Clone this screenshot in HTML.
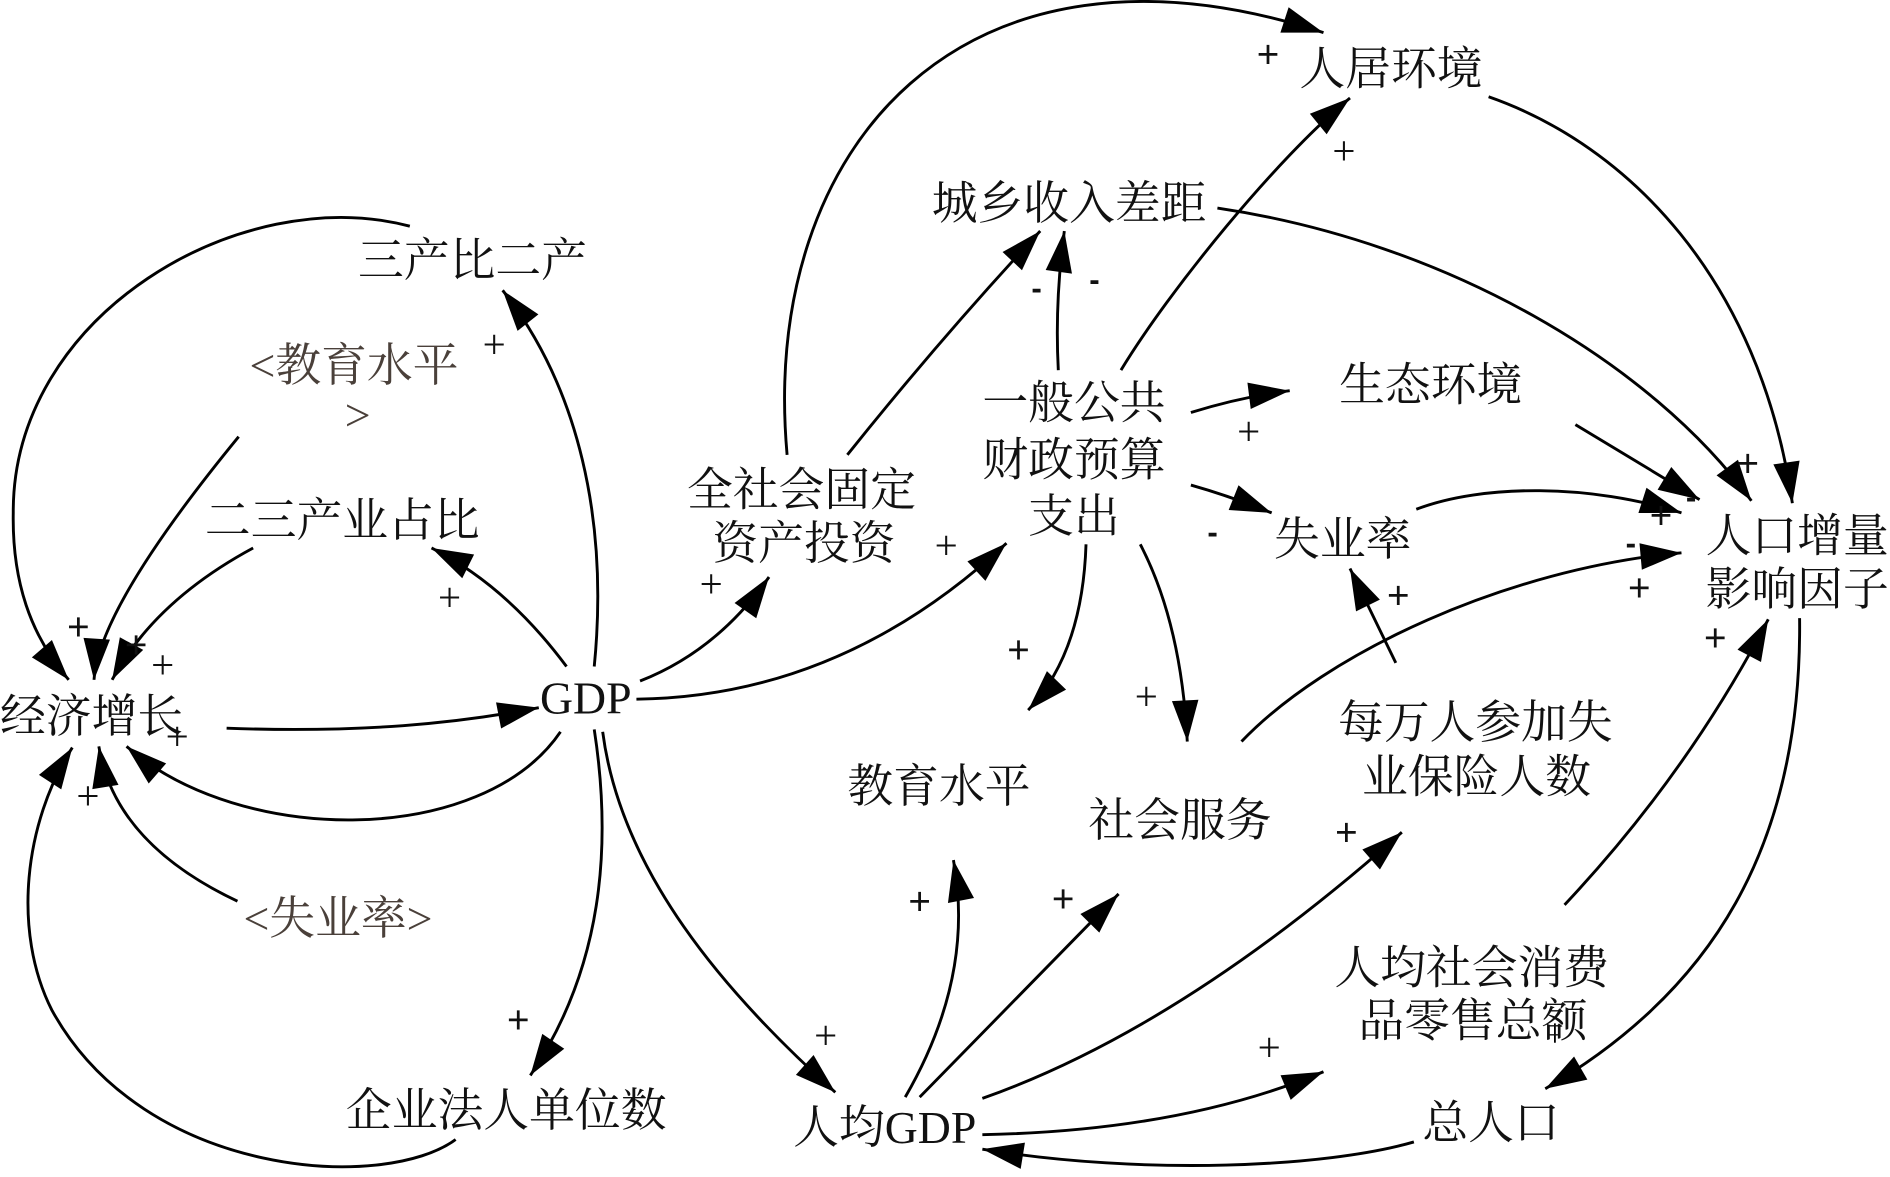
<!DOCTYPE html>
<html>
<head>
<meta charset="utf-8">
<style>
html,body{margin:0;padding:0;background:#fff;}
svg{display:block;}
.t{font-family:"Liberation Serif","Noto Serif CJK SC",serif;font-size:38px;fill:#111;}
.g{fill:#4a403a;}
.p{font-family:"Liberation Serif",serif;font-size:34px;fill:#111;text-anchor:middle;}
.pb{font-family:"Liberation Sans",sans-serif;font-size:32px;fill:#111;text-anchor:middle;}
.m{font-family:"Liberation Sans",sans-serif;font-weight:bold;font-size:26px;fill:#111;text-anchor:middle;}
.c{fill:none;stroke:#000;stroke-width:2.4;marker-end:url(#a);}
</style>
</head>
<body>
<svg width="1890" height="1177" viewBox="0 0 1568 973" preserveAspectRatio="none" xmlns="http://www.w3.org/2000/svg">
<defs>
<marker id="a" markerUnits="userSpaceOnUse" markerWidth="40" markerHeight="26" refX="34" refY="11" orient="auto" overflow="visible">
<path d="M0,0 L34,11 L0,22 z" fill="#000"/>
</marker>
</defs>
<rect width="1568" height="973" fill="#fff"/>

<!-- connectors -->
<path class="c" d="M653,376 C630,120 800,-70 1098,27"/>
<path class="c" d="M1010,172 C1200,200 1370,300 1453,414"/>
<path class="c" d="M1235,80 C1350,120 1460,230 1487,416"/>
<path class="c" d="M930,306 C970,240 1060,130 1120,81"/>
<path class="c" d="M878,306 Q875,250 883,191"/>
<path class="c" d="M703,376 Q780,280 863,191"/>
<path class="c" d="M988,341 Q1030,328 1070,323"/>
<path class="c" d="M988,401 Q1020,410 1055,424"/>
<path class="c" d="M901,450 Q898,540 853,587"/>
<path class="c" d="M946,450 Q980,515 985,613"/>
<path class="c" d="M531,563 Q595,538 638,477"/>
<path class="c" d="M528,578 Q698,576 835,449"/>
<path class="c" d="M470,551 Q420,484 358,453"/>
<path class="c" d="M493,551 C505,430 480,320 417,240"/>
<path class="c" d="M465,605 C400,700 200,700 105,617"/>
<path class="c" d="M188,602 C300,606 380,598 447,585"/>
<path class="c" d="M340,187 C200,150 10,260 11,424 C10,480 25,525 57,562"/>
<path class="c" d="M198,361 Q82,502 78,562"/>
<path class="c" d="M210,453 Q128,497 93,562"/>
<path class="c" d="M378,942 C320,985 120,975 43,835 C10,770 20,680 60,618"/>
<path class="c" d="M197,745 Q95,697 82,617"/>
<path class="c" d="M493,603 C508,700 500,800 440,889"/>
<path class="c" d="M500,605 C515,720 600,820 693,903"/>
<path class="c" d="M751,907 Q809,807 791,711"/>
<path class="c" d="M763,907 L928,739"/>
<path class="c" d="M815,908 Q980,850 1163,688"/>
<path class="c" d="M815,938 Q980,935 1098,886"/>
<path class="c" d="M1173,944 C1100,965 950,972 815,950"/>
<path class="c" d="M1493,511 C1495,700 1420,820 1282,900"/>
<path class="c" d="M1298,748 Q1400,640 1467,512"/>
<path class="c" d="M1030,613 C1100,540 1250,470 1395,457"/>
<path class="c" d="M1175,421 C1230,400 1320,400 1395,424"/>
<path class="c" d="M1158,548 L1120,470"/>
<path class="c" d="M1307,351 L1410,413"/>
<line x1="1290" y1="846" x2="1290" y2="862" stroke="#000" stroke-width="1.5"/>

<!-- node labels -->
<text class="t" x="1078" y="70">人居环境</text>
<text class="t" x="773" y="181">城乡收入差距</text>
<text class="t" x="297" y="228">三产比二产</text>
<text class="t g" x="207" y="315">&lt;教育水平</text>
<text class="t g" x="286" y="356">&gt;</text>
<text class="t" x="891" y="346" text-anchor="middle">一般公共</text>
<text class="t" x="891" y="393" text-anchor="middle">财政预算</text>
<text class="t" x="891" y="440" text-anchor="middle">支出</text>
<text class="t" x="1111" y="331">生态环境</text>
<text class="t" x="570" y="418">全社会固定</text>
<text class="t" x="591" y="462">资产投资</text>
<text class="t" x="170" y="443">二三产业占比</text>
<text class="t" x="1057" y="459">失业率</text>
<text class="t" x="1415" y="456">人口增量</text>
<text class="t" x="1415" y="500">影响因子</text>
<text class="t" x="0" y="605">经济增长</text>
<text class="t" x="448" y="590">GDP</text>
<text class="t" x="1110" y="610">每万人参加失</text>
<text class="t" x="1130" y="655">业保险人数</text>
<text class="t" x="703" y="663">教育水平</text>
<text class="t" x="903" y="691">社会服务</text>
<text class="t g" x="202" y="772">&lt;失业率&gt;</text>
<text class="t" x="1107" y="813">人均社会消费</text>
<text class="t" x="1127" y="857">品零售总额</text>
<text class="t" x="287" y="931">企业法人单位数</text>
<text class="t" x="658" y="945">人均GDP</text>
<text class="t" x="1180" y="941">总人口</text>

<!-- thin plus signs -->
<text class="p" x="1115" y="136">+</text>
<text class="p" x="410" y="296">+</text>
<text class="p" x="1036" y="368">+</text>
<text class="p" x="785" y="462">+</text>
<text class="p" x="590" y="494">+</text>
<text class="p" x="373" y="505">+</text>
<text class="p" x="951" y="587">+</text>
<text class="p" x="135" y="561">+</text>
<text class="p" x="147" y="620">+</text>
<text class="p" x="73" y="669">+</text>
<text class="p" x="685" y="867">+</text>
<text class="p" x="1053" y="877">+</text>

<!-- bold plus signs -->
<text class="pb" x="1052" y="56">+</text>
<text class="pb" x="845" y="548">+</text>
<text class="pb" x="65" y="529">+</text>
<text class="pb" x="113" y="544">+</text>
<text class="pb" x="1160" y="503">+</text>
<text class="pb" x="1450" y="394">+</text>
<text class="pb" x="1378" y="437">+</text>
<text class="pb" x="1360" y="497">+</text>
<text class="pb" x="1423" y="538">+</text>
<text class="pb" x="763" y="756">+</text>
<text class="pb" x="882" y="754">+</text>
<text class="pb" x="430" y="854">+</text>
<text class="pb" x="1117" y="699">+</text>

<!-- minus signs -->
<text class="m" x="860" y="247">-</text>
<text class="m" x="908" y="240">-</text>
<text class="m" x="1006" y="449">-</text>
<text class="m" x="1403" y="420">-</text>
<text class="m" x="1353" y="458">-</text>
</svg>
</body>
</html>
